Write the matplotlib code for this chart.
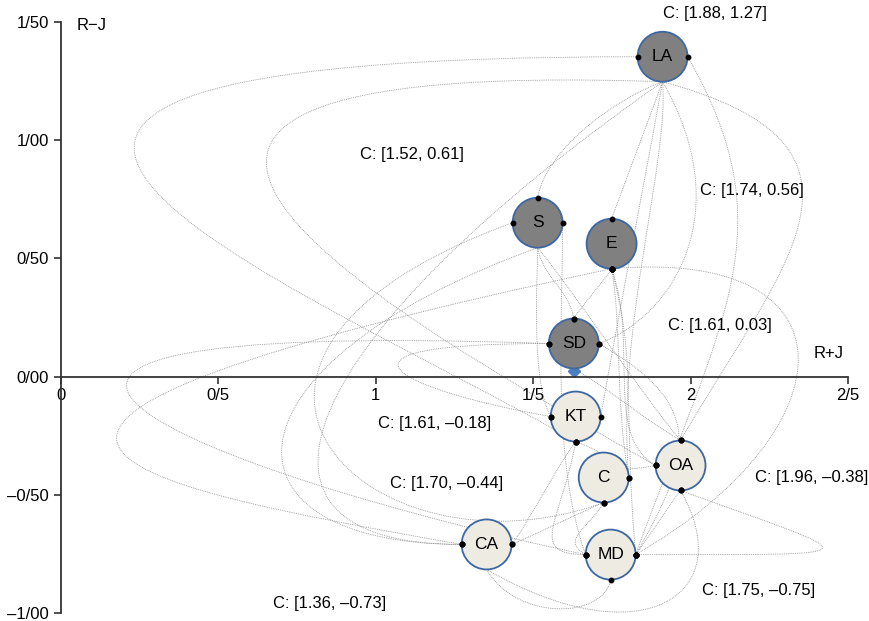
import numpy as np
import matplotlib.pyplot as plt
from matplotlib.path import Path
from matplotlib.patches import PathPatch

plt.rcParams['font.family'] = ['Liberation Sans', 'DejaVu Sans']

# node positions (R+J, R-J)
names = ['LA', 'S', 'E', 'SD', 'KT', 'C', 'OA', 'CA', 'MD']
r_plus_j = [1.911, 1.514, 1.749, 1.629, 1.635, 1.724, 1.968, 1.352, 1.746]
r_minus_j = [1.353, 0.651, 0.562, 0.140, -0.169, -0.427, -0.376, -0.710, -0.753]
is_cause = [True, True, True, True, False, False, False, False, False]

# values printed next to the nodes
coord_x = [1.88, 1.52, 1.74, 1.61, 1.61, 1.70, 1.96, 1.36, 1.75]
coord_y = [1.27, 0.61, 0.56, 0.03, -0.18, -0.44, -0.38, -0.73, -0.75]

x_ticks = [0, 0.5, 1, 1.5, 2, 2.5]
x_tick_labels = ['0', '0/5', '1', '1/5', '2', '2/5']
y_ticks = [-1, -0.5, 0, 0.5, 1, 1.5]
y_tick_labels = ['\u20131/00', '\u20130/50', '0/00', '0/50', '1/00', '1/50']

# relations: source, port, target, port, handle lengths (px) and angles (deg)
edges = [
    ('LA', 'l', 'KT', 'b', 930, 180, 320, 150),
    ('LA', 'B', 'OA', 'l', 750, 178, 280, 150),
    ('LA', 'B', 'S', 't', 50, 200, 50, 80),
    ('LA', 'B', 'E', 't', 20, 250, 20, 70),
    ('LA', 'B', 'C', 'r', 80, -85, 150, 95),
    ('LA', 'B', 'KT', 'r', 60, -100, 120, 80),
    ('LA', 'B', 'OA', 't', 250, -15, 200, 60),
    ('LA', 'r', 'MD', 'r', 200, -60, 250, 70),
    ('LA', 'B', 'SD', 'r', 150, -60, 80, 20),
    ('LA', 'B', 'CA', 'l', 450, 215, 250, 180),
    ('E', 'b', 'CA', 'l', 780, 192, 360, 170),
    ('SD', 'l', 'MD', 'l', 760, 178, 380, 168),
    ('S', 'l', 'C', 'b', 400, 200, 250, 200),
    ('S', 'B', 'SD', 't', 30, -80, 30, 100),
    ('S', 'B', 'KT', 'l', 30, -90, 40, 120),
    ('S', 'B', 'OA', 't', 50, -50, 60, 130),
    ('S', 'r', 'MD', 'l', 100, -90, 100, 110),
    ('S', 'B', 'CA', 'l', 350, 200, 250, 180),
    ('E', 'b', 'SD', 't', 10, -120, 10, 60),
    ('E', 'b', 'C', 'r', 60, -80, 80, 100),
    ('E', 'b', 'MD', 'r', 100, -75, 150, 95),
    ('E', 'b', 'MD', 'r', 250, 5, 250, 30),
    ('E', 'b', 'OA', 'l', 80, -70, 60, 150),
    ('SD', 'l', 'KT', 'l', 250, 180, 150, 170),
    ('SD', 'b', 'OA', 't', 40, -30, 40, 150),
    ('SD', 'r', 'MD', 'r', 120, -30, 120, 60),
    ('KT', 'b', 'MD', 'l', 80, -100, 60, 180),
    ('CA', 'r', 'KT', 'b', 20, 50, 20, -130),
    ('CA', 'r', 'C', 'b', 10, 20, 10, -160),
    ('CA', 'B', 'MD', 'b', 60, -60, 40, -100),
    ('CA', 'B', 'OA', 'b', 180, -30, 120, -60),
    ('MD', 'r', 'OA', 'b', 250, 0, 200, -20),
    ('OA', 'b', 'MD', 'r', 10, -130, 10, 50),
    ('C', 'b', 'MD', 'l', 30, -120, 30, 150),
    ('KT', 'b', 'OA', 'l', 60, -20, 60, 190),
]

fig = plt.figure(figsize=(8.69, 6.21), dpi=100)
ax = fig.add_axes([61 / 869, 1 - 613 / 621, 787 / 869, 591 / 621])
ax.set_xlim(0, 2.5)
ax.set_ylim(-1, 1.5)

# px per data unit, used to turn handle lengths into data offsets
PX = 787 / 2.5
PY = 591 / 2.5
R = 25
port_off = {'l': (-R, 0), 'r': (R, 0), 't': (0, R), 'b': (0, -R), 'B': (0, -R)}


def port(name, p):
    i = names.index(name)
    dx, dy = port_off[p]
    return r_plus_j[i] + dx / PX, r_minus_j[i] + dy / PY


def handle(pt, length, ang):
    a = np.radians(ang)
    return pt[0] + length * np.cos(a) / PX, pt[1] + length * np.sin(a) / PY


dots = []
for src, sp, dst, dp, l1, a1, l2, a2 in edges:
    p0 = port(src, sp)
    p3 = port(dst, dp)
    c1 = handle(p0, l1, a1)
    c2 = handle(p3, l2, a2)
    path = Path([p0, c1, c2, p3], [Path.MOVETO, Path.CURVE4, Path.CURVE4, Path.CURVE4])
    ax.add_patch(PathPatch(path, fill=False, edgecolor='#8c8c8c', lw=0.6,
                           linestyle=(0, (1, 1.2)), zorder=1))
    if sp != 'B' and not (src == 'SD' and sp == 'b'):
        dots.append(p0)
    if dp != 'B':
        dots.append(p3)

colors = ['#808080' if c else '#eeebe2' for c in is_cause]
ax.scatter(r_plus_j, r_minus_j, s=1296, c=colors, edgecolors='#3c67a3',
           linewidths=1.3, zorder=3)
for n, x, y in zip(names, r_plus_j, r_minus_j):
    ax.text(x, y, n, ha='center', va='center', fontsize=12.5, zorder=5)

if dots:
    dx, dy = zip(*dots)
    ax.plot(dx, dy, 'o', color='black', ms=3.2, zorder=4)

sd = port('SD', 'b')
ax.plot([sd[0]], [sd[1] - 0.01], 'D', color='#4a7fc4', ms=6, zorder=2)

# coordinate labels
label_pos = [(2.076, 1.535), (1.114, 0.939), (2.194, 0.786), (2.092, 0.216),
             (1.187, -0.199), (1.225, -0.452), (2.384, -0.427), (0.854, -0.960),
             (2.216, -0.905)]
for (lx, ly), cx, cy in zip(label_pos, coord_x, coord_y):
    txt = f'C: [{cx:.2f}, {cy:.2f}]'.replace('-', '\u2013')
    ax.text(lx, ly, txt, ha='center', va='center', fontsize=12, clip_on=False)

ax.text(0.05, 1.484, 'R\u2212J', ha='left', va='center', fontsize=12)
ax.text(2.44, 0.097, 'R+J', ha='center', va='center', fontsize=12)

for s in ['top', 'right']:
    ax.spines[s].set_visible(False)
ax.spines['left'].set_position(('data', 0))
ax.spines['bottom'].set_position(('data', 0))
for s in ['left', 'bottom']:
    ax.spines[s].set_linewidth(1.3)
    ax.spines[s].set_color('#333333')
ax.set_xticks(x_ticks)
ax.set_xticklabels(x_tick_labels)
ax.set_yticks(y_ticks)
ax.set_yticklabels(y_tick_labels)
ax.tick_params(direction='out', length=5, width=1.2, color='#333333', labelsize=12)
ax.patch.set_alpha(0)

fig.savefig('out.png', dpi=100)
